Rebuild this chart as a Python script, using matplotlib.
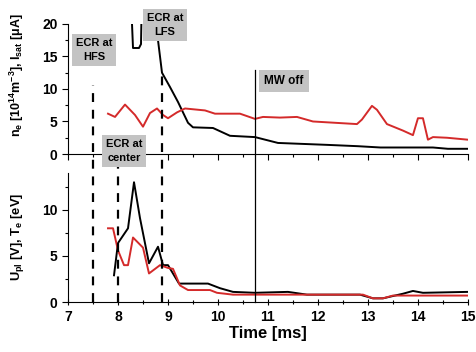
import numpy as np
import matplotlib
matplotlib.use('Agg')
import matplotlib.pyplot as plt
from matplotlib.ticker import MultipleLocator

plt.rcParams['font.family'] = ['Liberation Sans', 'DejaVu Sans']
plt.rcParams['font.weight'] = 'bold'
plt.rcParams['mathtext.fontset'] = 'custom'
plt.rcParams['mathtext.rm'] = 'Liberation Sans:bold'
plt.rcParams['mathtext.it'] = 'Liberation Sans:bold'
plt.rcParams['mathtext.bf'] = 'Liberation Sans:bold'
plt.rcParams['mathtext.default'] = 'rm'

# top panel: ion saturation current (black) and density (red)
isat_t = [8.28, 8.30, 8.42, 8.46, 8.49, 8.80, 8.88, 9.04, 9.20, 9.40, 9.50,
          9.90, 10.24, 10.74, 11.20, 12.20, 12.80, 13.25, 14.30, 14.60, 15.0]
isat_v = [20.0, 16.3, 16.3, 16.9, 30.0, 17.5, 12.5, 10.3, 8.0, 4.8, 4.1,
          4.0, 2.8, 2.6, 1.7, 1.4, 1.2, 1.0, 1.0, 0.8, 0.8]

ne_t = [7.80, 7.94, 8.14, 8.34, 8.50, 8.64, 8.78, 8.90, 9.00, 9.18, 9.34,
        9.74, 9.94, 10.44, 10.74, 10.90, 11.24, 11.58, 11.90, 12.78, 12.88,
        13.08, 13.18, 13.38, 13.70, 13.90, 14.00, 14.10, 14.20, 14.30, 14.58, 15.0]
ne_v = [6.2, 5.7, 7.6, 6.0, 4.2, 6.3, 7.0, 6.0, 5.5, 6.4, 7.0,
        6.7, 6.2, 6.2, 5.4, 5.7, 5.6, 5.7, 5.0, 4.6, 5.3,
        7.4, 6.8, 4.6, 3.6, 2.9, 5.5, 5.5, 2.2, 2.6, 2.5, 2.2]

# bottom panel: plasma potential (black) and electron temperature (red)
upl_t = [7.92, 8.00, 8.20, 8.32, 8.44, 8.62, 8.80, 8.90, 9.00, 9.22, 9.80,
         10.04, 10.30, 10.74, 11.40, 11.78, 12.84, 13.10, 13.30, 13.70, 13.90,
         14.10, 15.0]
upl_v = [2.9, 6.4, 8.0, 13.0, 9.1, 4.2, 6.0, 4.0, 4.0, 2.0, 2.0,
         1.5, 1.1, 1.0, 1.1, 0.8, 0.8, 0.4, 0.4, 0.9, 1.2,
         1.0, 1.1]

te_t = [7.80, 7.90, 8.00, 8.12, 8.20, 8.30, 8.50, 8.62, 8.84, 9.00, 9.10,
        9.24, 9.40, 9.84, 9.98, 10.30, 12.90, 13.10, 13.30, 13.50, 15.0]
te_v = [8.0, 8.0, 5.6, 4.0, 4.0, 7.0, 5.9, 3.1, 4.0, 3.7, 3.6,
        1.8, 1.3, 1.3, 1.0, 0.8, 0.8, 0.4, 0.4, 0.7, 0.7]

# vertical markers: x position, top (in bottom-axis data units)
ecr_x = [7.5, 8.0, 8.88]
ecr_top = [23.5, 14.6, 25.0]
mw_off_x = 10.74

red = '#d42a2a'

fig = plt.figure(figsize=(4.77, 3.52), dpi=100)
ax1 = fig.add_axes([0.1426, 0.5625, 0.8384, 0.3695])
ax2 = fig.add_axes([0.1426, 0.142, 0.8384, 0.3665])

ax1.plot(isat_t, isat_v, color='black', lw=1.4)
ax1.plot(ne_t, ne_v, color=red, lw=1.4)
ax2.plot(upl_t, upl_v, color='black', lw=1.4)
ax2.plot(te_t, te_v, color=red, lw=1.4)

for x, top in zip(ecr_x, ecr_top):
    ax2.plot([x, x], [0, top], color='black', lw=1.6, ls=(0, (4, 3.5)),
             clip_on=False, zorder=3)
ax2.plot([mw_off_x, mw_off_x], [0, 25.2], color='black', lw=0.9,
         clip_on=False, zorder=3)

for ax in (ax1, ax2):
    ax.set_xlim(7, 15)
    for s in ('top', 'right'):
        ax.spines[s].set_visible(False)
    ax.xaxis.set_major_locator(MultipleLocator(1))
    ax.xaxis.set_minor_locator(MultipleLocator(0.5))
    ax.tick_params(axis='both', which='major', length=4, width=0.8,
                   labelsize=10)
    ax.tick_params(axis='both', which='minor', length=2.5, width=0.8)

ax1.set_ylim(0, 20)
ax1.yaxis.set_major_locator(MultipleLocator(5))
ax1.yaxis.set_minor_locator(MultipleLocator(2.5))
ax1.tick_params(axis='x', labelbottom=False)

ax2.set_ylim(0, 14)
ax2.yaxis.set_major_locator(MultipleLocator(5))
ax2.yaxis.set_minor_locator(MultipleLocator(2.5))
ax2.tick_params(axis='x', which='both', direction='inout')
ax2.set_xlabel('Time [ms]', fontsize=12, fontweight='bold', labelpad=2)

fig.text(0.036, 1 - 75 / 352,
         r'n$_e$ [10$^{14}$m$^{-3}$], I$_{sat}$ [$\mu$A]',
         rotation=90, ha='center', va='center', fontsize=9)
fig.text(0.036, 1 - 237 / 352, r'U$_{pl}$ [V], T$_e$ [eV]',
         rotation=90, ha='center', va='center', fontsize=9.3)

box = dict(boxstyle='square,pad=0.38', fc='#c3c3c3', ec='none')
fig.text(94 / 477, 1 - 50 / 352, 'ECR at\nHFS', ha='center', va='center',
         fontsize=8, bbox=box, linespacing=1.5, zorder=5)
fig.text(165 / 477, 1 - 25 / 352, 'ECR at\nLFS', ha='center', va='center',
         fontsize=8, bbox=box, linespacing=1.5, zorder=5)
fig.text(124 / 477, 1 - 151 / 352, 'ECR at\ncenter', ha='center', va='center',
         fontsize=8, bbox=box, linespacing=1.5, zorder=5)
fig.text(284 / 477, 1 - 81 / 352, 'MW off', ha='center', va='center',
         fontsize=8.5, bbox=dict(boxstyle='square,pad=0.45', fc='#c3c3c3',
                                 ec='none'), zorder=5)

fig.savefig('out.png', dpi=100)
